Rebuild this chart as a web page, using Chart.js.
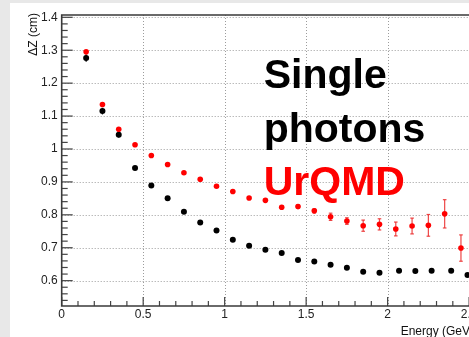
<!DOCTYPE html>
<html>
<head>
<meta charset="utf-8">
<script src="https://cdn.jsdelivr.net/npm/chart.js@4.4.0/dist/chart.umd.min.js"></script>
<style>
  html, body { margin: 0; padding: 0; overflow: hidden; background: #fff; }
  #caja { position: relative; width: 500px; height: 337px; }
</style>
</head>
<body>
<div id="caja"><canvas id="GraficoDz" width="500" height="337"></canvas></div>
<script>
// resolucion dZ vs energia, fotones simples y UrQMD
const energiaUrqmd = [0.15, 0.25, 0.35, 0.45, 0.55, 0.65, 0.75, 0.85, 0.95, 1.05, 1.15, 1.25,
                      1.35, 1.45, 1.55, 1.65, 1.75, 1.85, 1.95, 2.05, 2.15, 2.25, 2.35, 2.45];
const dzUrqmd = [1.295, 1.135, 1.060, 1.013, 0.980, 0.953, 0.928, 0.908, 0.887, 0.871, 0.851, 0.844,
                 0.823, 0.825, 0.812, 0.794, 0.781, 0.767, 0.771, 0.757, 0.766, 0.768, 0.803, 0.699];
const errUrqmd = [0.003, 0.003, 0.003, 0.003, 0.003, 0.003, 0.003, 0.003, 0.003, 0.003, 0.003, 0.004,
                  0.004, 0.005, 0.006, 0.011, 0.010, 0.017, 0.017, 0.021, 0.024, 0.033, 0.043, 0.040];

const energiaFotones = [0.15, 0.25, 0.35, 0.45, 0.55, 0.65, 0.75, 0.85, 0.95, 1.05, 1.15, 1.25,
                        1.35, 1.45, 1.55, 1.65, 1.75, 1.85, 1.95, 2.07, 2.17, 2.27, 2.39, 2.49];
const dzFotones = [1.276, 1.115, 1.043, 0.942, 0.889, 0.850, 0.809, 0.777, 0.752, 0.724, 0.706, 0.694,
                   0.684, 0.663, 0.658, 0.648, 0.639, 0.627, 0.624, 0.630, 0.629, 0.630, 0.630, 0.617];
const errFotones = [0.011, 0.010, 0.008, 0.005, 0.004, 0.004, 0.003, 0.003, 0.003, 0.003, 0.003, 0.003,
                    0.003, 0.003, 0.003, 0.003, 0.003, 0.003, 0.003, 0.003, 0.003, 0.003, 0.003, 0.003];

const ticksX = [0, 0.5, 1, 1.5, 2, 2.5];
const ticksY = [0.6, 0.7, 0.8, 0.9, 1, 1.1, 1.2, 1.3, 1.4];
const titulos = ["Single", "photons", "UrQMD"];
const tituloX = "Energy (GeV)";
const tituloY = "\u0394Z (cm)";

const puntos = (xs, ys, es) => xs.map((x, i) => ({ x: x, y: ys[i], e: es[i] }));
const rotulo = v => String(Math.round(v * 10) / 10);

function linea(c, x1, y1, x2, y2) {
  c.beginPath(); c.moveTo(x1, y1); c.lineTo(x2, y2); c.stroke();
}

// marco, rejilla punteada y marcas de los ejes hacia adentro
const marco = {
  id: "marco",
  beforeDraw(chart) {
    const c = chart.ctx, a = chart.chartArea, sx = chart.scales.x, sy = chart.scales.y;
    c.save();
    c.fillStyle = "#fff";
    c.fillRect(0, 0, chart.width, chart.height);
    c.fillStyle = "#e8e8e8";
    c.fillRect(0, 0, chart.width, 3);
    c.fillRect(0, 0, 10, chart.height);

    c.strokeStyle = "#9c9c9c";
    c.lineWidth = 1;
    c.setLineDash([1, 2]);
    ticksX.forEach(v => {
      if (v <= 0) return;
      const px = Math.round(sx.getPixelForValue(v)) + 0.5;
      linea(c, px, a.top, px, a.bottom);
    });
    ticksY.forEach(v => {
      const py = Math.round(sy.getPixelForValue(v)) + 0.5;
      linea(c, a.left, py, a.right, py);
    });
    c.setLineDash([]);

    c.strokeStyle = "#444";
    c.lineWidth = 1.2;
    for (let k = 0; k <= 25; k++) {
      const px = sx.getPixelForValue(k / 10);
      linea(c, px, a.bottom, px, a.bottom - (k % 5 === 0 ? 9 : 5));
    }
    for (let k = 27; k <= 70; k++) {
      const v = k / 50;
      if (v < sy.min || v > sy.max) continue;
      const py = sy.getPixelForValue(v);
      linea(c, a.left, py, a.left + (k % 5 === 0 ? 11 : 6), py);
    }

    c.strokeStyle = "#3a3a3a";
    c.lineWidth = 1.6;
    c.beginPath();
    c.moveTo(a.right, a.top);
    c.lineTo(a.left, a.top);
    c.lineTo(a.left, a.bottom);
    c.lineTo(a.right, a.bottom);
    c.stroke();
    c.restore();
  },
  beforeDatasetsDraw(chart) {
    const c = chart.ctx, sy = chart.scales.y, sx = chart.scales.x;
    c.save();
    chart.data.datasets.forEach(ds => {
      c.strokeStyle = ds.colorError;
      c.lineWidth = 1.2;
      ds.data.forEach(p => {
        const px = sx.getPixelForValue(p.x);
        const y1 = sy.getPixelForValue(p.y - p.e), y2 = sy.getPixelForValue(p.y + p.e);
        linea(c, px, y1, px, y2);
        if (ds.conTapas) {
          linea(c, px - 1.8, y1, px + 1.8, y1);
          linea(c, px - 1.8, y2, px + 1.8, y2);
        }
      });
    });
    c.restore();
  },
  afterDraw(chart) {
    const c = chart.ctx, a = chart.chartArea;
    c.save();
    c.font = "bold 41px 'Liberation Sans', Arial, sans-serif";
    c.textBaseline = "alphabetic";
    c.textAlign = "left";
    const colores = ["#000", "#000", "#ff0000"];
    titulos.forEach((t, i) => {
      c.fillStyle = colores[i];
      c.fillText(t, a.left + 202, 88 + i * 53.5);
    });

    c.fillStyle = "#111";
    c.font = "12px 'Liberation Sans', Arial, sans-serif";
    c.textAlign = "right";
    c.fillText(tituloX, a.right, 335);

    c.translate(37, 13);
    c.rotate(-Math.PI / 2);
    c.textAlign = "right";
    c.fillText(tituloY, 0, 0);
    c.restore();
  }
};

let miCanvas = document.getElementById("GraficoDz").getContext("2d");

var grafico = new Chart(miCanvas, {
  type: "scatter",
  data: {
    datasets: [
      {
        label: "UrQMD",
        data: puntos(energiaUrqmd, dzUrqmd, errUrqmd),
        backgroundColor: "#ff0000",
        borderColor: "#ff0000",
        borderWidth: 0,
        pointRadius: 2.8,
        colorError: "rgba(235,50,50,0.9)",
        conTapas: true
      },
      {
        label: "Single photons",
        data: puntos(energiaFotones, dzFotones, errFotones),
        backgroundColor: "#000",
        borderColor: "#000",
        borderWidth: 0,
        pointRadius: 3,
        colorError: "#000",
        conTapas: false
      }
    ]
  },
  options: {
    responsive: false,
    animation: false,
    layout: { padding: { left: 0, top: 15, right: 26, bottom: 0 } },
    plugins: { legend: { display: false }, tooltip: { enabled: false } },
    scales: {
      x: {
        type: "linear",
        min: 0,
        max: 2.53,
        afterBuildTicks: s => { s.ticks = ticksX.map(v => ({ value: v })); },
        afterFit: s => { s.height = 31; },
        grid: { display: false, drawTicks: false },
        border: { display: false },
        ticks: { padding: 1, color: "#222", callback: rotulo,
                 font: { family: "'Liberation Sans', Arial", size: 12 } }
      },
      y: {
        type: "linear",
        min: 0.523,
        max: 1.407,
        afterBuildTicks: s => { s.ticks = ticksY.map(v => ({ value: v })); },
        afterFit: s => { s.width = 61.7; },
        grid: { display: false, drawTicks: false },
        border: { display: false },
        ticks: { padding: 4, color: "#222", callback: rotulo,
                 font: { family: "'Liberation Sans', Arial", size: 12 } }
      }
    }
  },
  plugins: [marco]
});
</script>
</body>
</html>
